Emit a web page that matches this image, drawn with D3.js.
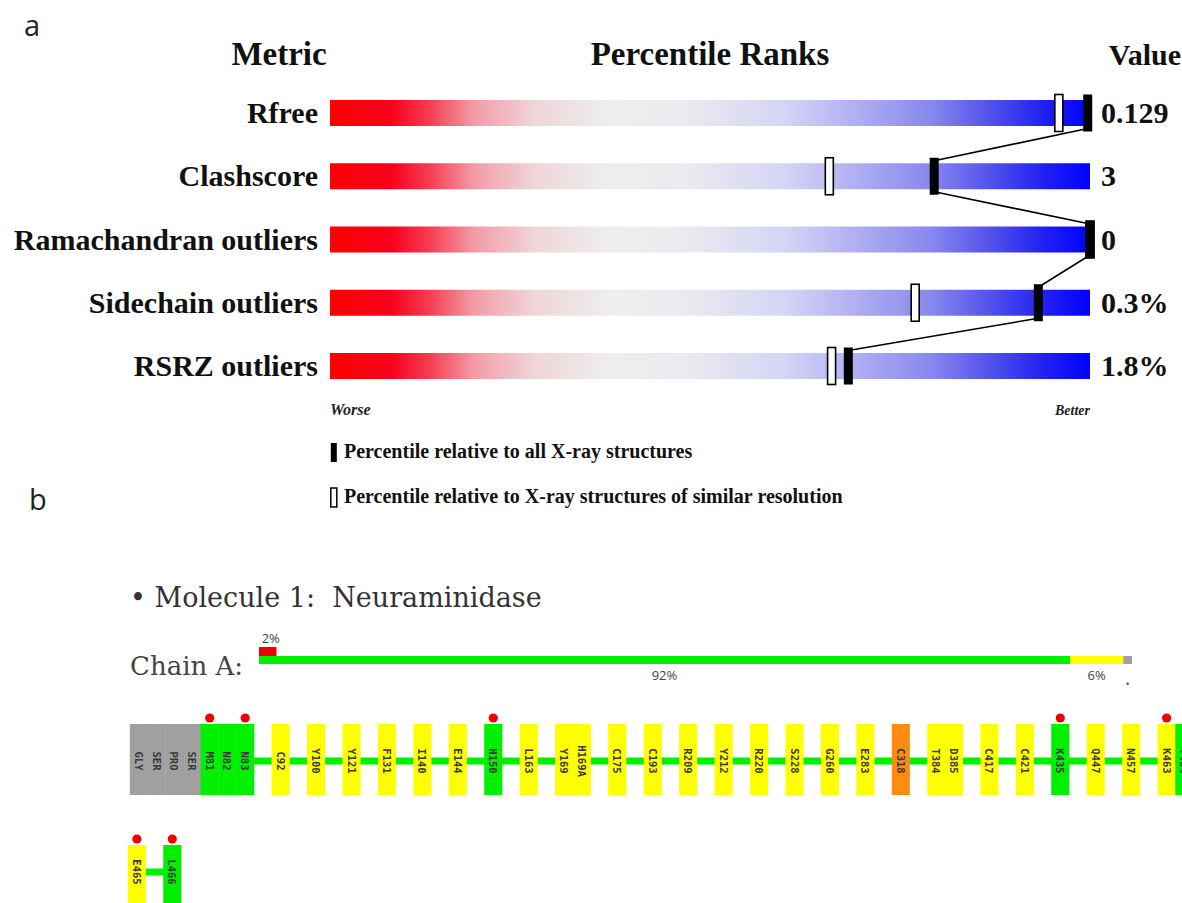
<!DOCTYPE html>
<html><head><meta charset="utf-8">
<script src="https://cdn.jsdelivr.net/npm/d3@7"></script>
<style>body{margin:0;background:#fff} svg{display:block}</style>
</head><body>
<svg id="c" width="1182" height="903"></svg>
<script>
// ---------- data ----------
const metrics = ["Rfree", "Clashscore", "Ramachandran outliers", "Sidechain outliers", "RSRZ outliers"];
const metricValues = ["0.129", "3", "0", "0.3%", "1.8%"];
const pctAll = [99.7, 79.5, 100, 93.2, 68.2];
const pctSimilar = [95.9, 65.7, 100, 77.0, 66.0];
const headerLabels = ["Metric", "Percentile Ranks", "Value"];
const scaleEnds = ["Worse", "Better"];
const legendLabels = ["Percentile relative to all X-ray structures",
                      "Percentile relative to X-ray structures of similar resolution"];

const moleculeTitle = "\u2022 Molecule 1:  Neuraminidase";
const chainTitle = "Chain A:";
const chainQuality = ["green", "yellow", "gray"];
const chainPercent = [92.9, 6.1, 1.0];
const chainLabels = ["92%", "6%", "\u2022"];
const outlierPercent = 2;
const outlierLabel = "2%";

const row1Names = ["GLY","SER","PRO","SER","M81","N82","N83",null,"C92",null,"Y100",null,"Y121",null,"F131",null,
  "I140",null,"E144",null,"H150",null,"L163",null,"Y169","H169A",null,"C175",null,"C193",null,"R209",null,
  "Y212",null,"R220",null,"S228",null,"G260",null,"E283",null,"C318",null,"T384","D385",null,"C417",null,
  "C421",null,"K435",null,"Q447",null,"N457",null,"K463","T464"];
const row1Quality = ["gray","gray","gray","gray","green","green","green",null,"yellow",null,"yellow",null,"yellow",null,"yellow",null,
  "yellow",null,"yellow",null,"green",null,"yellow",null,"yellow","yellow",null,"yellow",null,"yellow",null,"yellow",null,
  "yellow",null,"yellow",null,"yellow",null,"yellow",null,"yellow",null,"orange",null,"yellow","yellow",null,"yellow",null,
  "yellow",null,"green",null,"yellow",null,"yellow",null,"yellow","green"];
const row2Names = ["E465", null, "L466"];
const row2Quality = ["yellow", null, "green"];
const outlierResidues = ["M81", "N83", "H150", "K435", "K463", "E465", "L466"];

// ---------- styles ----------
const qualityColor = {green: "#00f000", yellow: "#ffff00", gray: "#a0a0a0", orange: "#ff8c10", red: "#ee0000"};
const serif = "'Liberation Serif','Times New Roman',serif";
const serif2 = "'DejaVu Serif','Liberation Serif',serif";
const sans = "'Open Sans','Liberation Sans',sans-serif";

const svg = d3.select("#c");

// ---------- panel a ----------
svg.append("text").attr("x", 24).attr("y", 36).attr("font-family", sans).attr("font-size", 29)
  .attr("fill", "#222").text("a");

const x = d3.scaleLinear().domain([0, 100]).range([330, 1090]);
const y = d3.scalePoint().domain(metrics).range([113, 366]);
const barH = 26;

const defs = svg.append("defs");
const grad = defs.append("linearGradient").attr("id", "slider").attr("x1", "0%").attr("x2", "100%").attr("y1", "0%").attr("y2", "0%");
const gradStops = [[0, "#ff0000"], [0.08, "#f8001c"], [0.13, "#f53c50"], [0.19, "#f39ca6"], [0.27, "#efd6d9"],
  [0.37, "#eeeeee"], [0.47, "#eaeaf0"], [0.6, "#d4d4f5"], [0.79, "#8888ee"], [0.86, "#5858ea"], [0.94, "#2020f2"], [1, "#0000ff"]];
grad.selectAll("stop").data(gradStops).join("stop")
  .attr("offset", d => d[0]).attr("stop-color", d => d[1]);

svg.append("g").selectAll("text").data(headerLabels).join("text")
  .attr("x", (d, i) => [279, 710, 1181][i])
  .attr("y", 65)
  .attr("text-anchor", (d, i) => i === 2 ? "end" : "middle")
  .attr("font-family", serif).attr("font-weight", "bold")
  .attr("font-size", (d, i) => i === 2 ? 30 : 33).attr("fill", "#111")
  .text(d => d);

svg.append("g").selectAll("rect").data(metrics).join("rect")
  .attr("x", x(0)).attr("width", x(100) - x(0))
  .attr("y", d => y(d) - barH / 2).attr("height", barH)
  .attr("fill", "url(#slider)");

svg.append("g").selectAll("text").data(metrics).join("text")
  .attr("x", 318).attr("y", d => y(d) + 10)
  .attr("text-anchor", "end")
  .attr("font-family", serif).attr("font-weight", "bold").attr("font-size", 30).attr("fill", "#111")
  .text(d => d);

svg.append("g").selectAll("text").data(metricValues).join("text")
  .attr("x", 1101).attr("y", (d, i) => y(metrics[i]) + 10)
  .attr("font-family", serif).attr("font-weight", "bold").attr("font-size", 30).attr("fill", "#111")
  .text(d => d);

const mkH = 37;
// open markers
svg.append("g").selectAll("rect").data(pctSimilar).join("rect")
  .attr("x", d => x(d) - 4).attr("width", 8)
  .attr("y", (d, i) => y(metrics[i]) - mkH / 2).attr("height", mkH)
  .attr("fill", "#fff").attr("stroke", "#000").attr("stroke-width", 1.6);

// connecting line
const segs = d3.pairs(pctAll.map((p, i) => [x(p), y(metrics[i])]));
svg.append("path")
  .attr("d", segs.map(([a, b]) => `M${a[0]},${a[1] + mkH / 2 - 3}L${b[0]},${b[1] - mkH / 2 + 3}`).join(""))
  .attr("stroke", "#000").attr("stroke-width", 1.6).attr("fill", "none");

// filled markers
svg.append("g").selectAll("rect").data(pctAll).join("rect")
  .attr("x", d => x(d) - 4.5).attr("width", 9)
  .attr("y", (d, i) => y(metrics[i]) - mkH / 2).attr("height", mkH)
  .attr("fill", "#000");

svg.append("g").selectAll("text").data(scaleEnds).join("text")
  .attr("x", (d, i) => i ? x(100) : x(0)).attr("y", 415)
  .attr("text-anchor", (d, i) => i ? "end" : "start")
  .attr("font-family", serif).attr("font-weight", "bold").attr("font-style", "italic")
  .attr("font-size", (d, i) => i ? 14 : 16).attr("fill", "#222")
  .text(d => d);

const leg = svg.append("g").selectAll("g").data(legendLabels).join("g")
  .attr("transform", (d, i) => `translate(330,${443 + i * 45})`);
leg.append("rect").attr("x", 0.8).attr("y", 0).attr("width", 6).attr("height", 19)
  .attr("fill", (d, i) => i ? "#fff" : "#000").attr("stroke", "#000").attr("stroke-width", (d, i) => i ? 1.5 : 0);
leg.append("text").attr("x", 14).attr("y", 15)
  .attr("font-family", serif).attr("font-weight", "bold").attr("font-size", 20).attr("fill", "#111")
  .text(d => d);

// ---------- panel b ----------
svg.append("text").attr("x", 29).attr("y", 510).attr("font-family", sans).attr("font-size", 29)
  .attr("fill", "#222").text("b");

svg.append("text").attr("x", 130).attr("y", 607).attr("font-family", serif2).attr("font-size", 27)
  .style("white-space", "pre").attr("fill", "#333").text(moleculeTitle);
svg.append("text").attr("x", 130).attr("y", 675).attr("font-family", serif2).attr("font-size", 26)
  .attr("fill", "#444").text(chainTitle);

const cx = d3.scaleLinear().domain([0, 100]).range([259, 1132]);
const starts = d3.cumsum([0].concat(chainPercent));
svg.append("g").selectAll("rect").data(chainPercent).join("rect")
  .attr("x", (d, i) => cx(starts[i])).attr("width", d => cx(d) - cx(0))
  .attr("y", 656).attr("height", 8)
  .attr("fill", (d, i) => qualityColor[chainQuality[i]]);
svg.append("g").selectAll("text").data(chainLabels).join("text")
  .attr("x", (d, i) => cx(starts[i] + chainPercent[i] / 2))
  .attr("y", (d, i) => i === 2 ? 688 : 680)
  .attr("text-anchor", "middle").attr("font-family", sans)
  .attr("font-size", (d, i) => i === 2 ? 10 : 13).attr("fill", "#444")
  .text(d => d);
svg.append("rect").attr("x", cx(0)).attr("width", cx(outlierPercent) - cx(0))
  .attr("y", 647).attr("height", 9).attr("fill", qualityColor.red);
svg.append("text").attr("x", cx(outlierPercent / 2) + 3).attr("y", 643).attr("text-anchor", "middle")
  .attr("font-family", sans).attr("font-size", 13).attr("fill", "#444").text(outlierLabel);

// residue rows
const slotW = 17.72;
function drawRow(names, quality, x0, top, boxH, lineY) {
  const rx = d3.scaleLinear().domain([0, 1]).range([x0, x0 + slotW]);
  const items = names.map((n, i) => ({n, q: quality[i], i})).filter(d => d.n);
  const g = svg.append("g");
  const lineItems = items.filter(d => d.q !== "gray");
  const first = d3.min(lineItems, d => d.i), last = d3.max(lineItems, d => d.i);
  g.append("rect").attr("x", rx(first + 0.5)).attr("width", rx(last + 0.5) - rx(first + 0.5))
    .attr("y", lineY - 3.5).attr("height", 7).attr("fill", qualityColor.green);
  g.selectAll("rect.res").data(items).join("rect").attr("class", "res")
    .attr("x", d => rx(d.i) - 0.2).attr("width", slotW + 0.4)
    .attr("y", top).attr("height", boxH)
    .attr("fill", d => qualityColor[d.q]);
  g.selectAll("text").data(items).join("text")
    .attr("transform", d => `translate(${rx(d.i + 0.5)},${lineY}) rotate(90)`)
    .attr("text-anchor", "middle").attr("dominant-baseline", "central")
    .attr("font-family", "'DejaVu Sans Mono','Liberation Mono',monospace").attr("font-size", 10.5)
    .attr("font-weight", "bold").attr("fill", "#3a3a3a").text(d => d.n);
  g.selectAll("circle").data(items.filter(d => outlierResidues.includes(d.n))).join("circle")
    .attr("cx", d => rx(d.i + 0.5)).attr("cy", top - 6).attr("r", 4.6)
    .attr("fill", qualityColor.red);
}
drawRow(row1Names, row1Quality, 130, 724, 71, 761);
drawRow(row2Names, row2Quality, 128, 845, 60, 872);
</script>
</body></html>
